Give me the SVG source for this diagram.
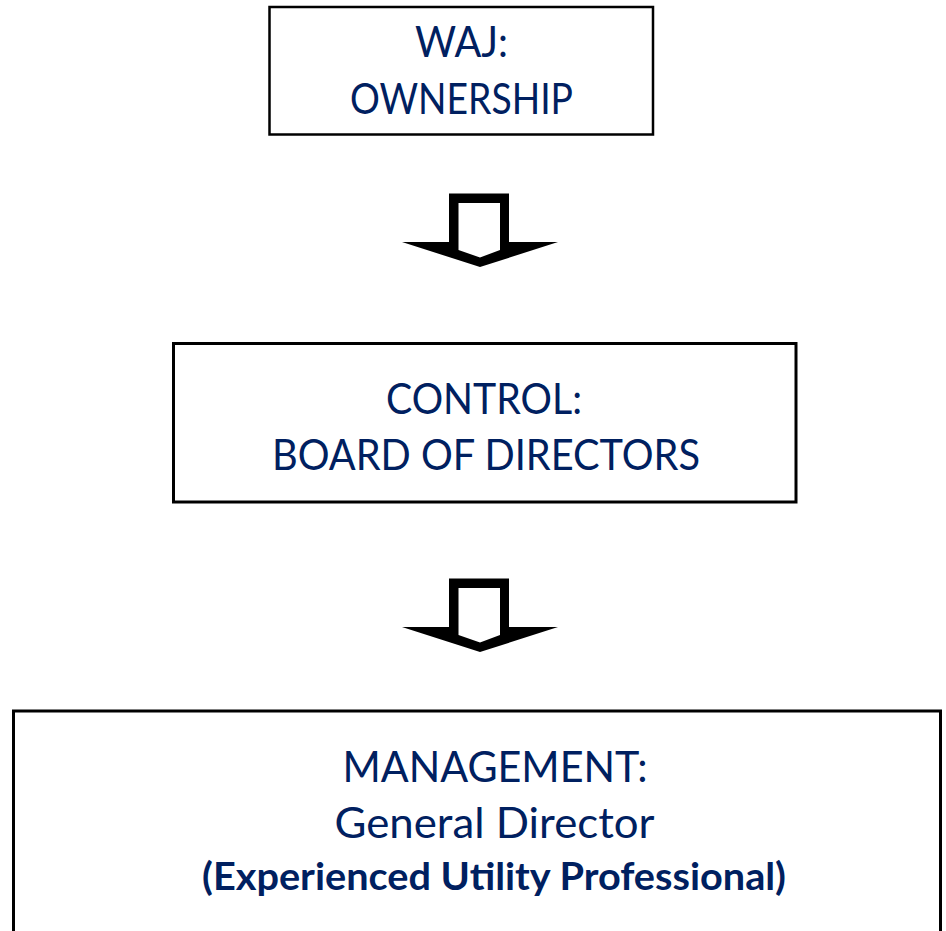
<svg xmlns="http://www.w3.org/2000/svg" width="946" height="931" viewBox="0 0 946 931">
  <style>
    .box { fill: #ffffff; stroke: #000000; }
    .t { font-family: Lato, "Open Sans", "Liberation Sans", sans-serif; fill: #002060; text-anchor: middle; }
    .big { font-size: 42px; }
    .bold { font-size: 38px; font-weight: bold; }
    .arrow { fill: #000000; fill-rule: evenodd; }
  </style>
  <rect width="946" height="931" fill="#ffffff"/>
  <g id="ownership">
    <rect class="box" x="269.5" y="7" width="383.5" height="127.5" stroke-width="2.5"/>
    <text class="t big" x="461.5" y="57" textLength="93" lengthAdjust="spacingAndGlyphs">WAJ:</text>
    <text class="t big" x="461.5" y="113.5" textLength="223" lengthAdjust="spacingAndGlyphs">OWNERSHIP</text>
  </g>
  <g id="control">
    <rect class="box" x="173.5" y="343.5" width="622.5" height="158.5" stroke-width="3"/>
    <text class="t big" x="484" y="414" textLength="196" lengthAdjust="spacingAndGlyphs">CONTROL:</text>
    <text class="t big" x="486" y="470" textLength="428" lengthAdjust="spacingAndGlyphs">BOARD OF DIRECTORS</text>
  </g>
  <g id="management">
    <rect class="box" x="13.5" y="711" width="927" height="240" stroke-width="3"/>
    <text class="t big" x="495" y="782" textLength="305" lengthAdjust="spacingAndGlyphs">MANAGEMENT:</text>
    <text class="t big" x="494.5" y="838" textLength="320" lengthAdjust="spacingAndGlyphs">General Director</text>
    <text class="t bold" x="494" y="890" textLength="584" lengthAdjust="spacingAndGlyphs">(Experienced Utility Professional)</text>
  </g>
  <g id="connectors">
    <path class="arrow" d="M449,193.5 H509 V242 H558 L480,267 L402,242 H449 Z M458.5,203 V250 L480,257.5 L500,250 V203 Z"/>
    <path class="arrow" d="M449,578.5 H509 V627 H558 L480,652 L402,627 H449 Z M458.5,588 V635 L480,642.5 L500,635 V588 Z"/>
  </g>
</svg>
